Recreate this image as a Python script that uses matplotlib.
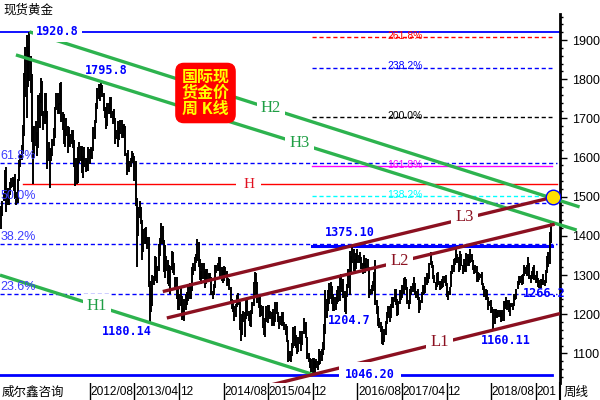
import matplotlib.pyplot as plt
import matplotlib.ticker as mticker
import pandas as pd

# weekly (high, low) of spot gold; each block starts on the Monday given
w2011_start = "2011-04-04"
w2011 = [
    (1476, 1418), (1490, 1450), (1510, 1488), (1569, 1502),
    (1577, 1462), (1522, 1478), (1513, 1480), (1537, 1505), (1547, 1522),
    (1550, 1525), (1545, 1515), (1558, 1495), (1512, 1478),
    (1545, 1483), (1595, 1540), (1610, 1575), (1632, 1595),
    (1684, 1610), (1817, 1655), (1881, 1755), (1912, 1702), (1885, 1780),
    (1920.8, 1795), (1860, 1765), (1812, 1640), (1680, 1532),
    (1680, 1600), (1694, 1630), (1665, 1605), (1760, 1625), (1765, 1675),
    (1802, 1740), (1795, 1705), (1720, 1670), (1764, 1685),
    (1765, 1702), (1720, 1570), (1640, 1590), (1625, 1523),
]
w2012_start = "2012-01-02"
w2012 = [
    (1625, 1590), (1648, 1605), (1675, 1630), (1730, 1650), (1764, 1722),
    (1764, 1710), (1740, 1710), (1790, 1735), (1792, 1690),
    (1715, 1670), (1710, 1635), (1672, 1627), (1700, 1655),
    (1680, 1612), (1677, 1630), (1660, 1626), (1670, 1635), (1670, 1625),
    (1645, 1575), (1600, 1527), (1598, 1532), (1627, 1535),
    (1640, 1585), (1630, 1590), (1630, 1560), (1605, 1547),
    (1627, 1575), (1600, 1562), (1595, 1566), (1627, 1565), (1623, 1584),
    (1627, 1600), (1625, 1597), (1678, 1616), (1695, 1648),
    (1740, 1687), (1777, 1725), (1787, 1750), (1788, 1745),
    (1795.8, 1765), (1786, 1755), (1765, 1718), (1728, 1700), (1730, 1672),
    (1740, 1680), (1738, 1710), (1755, 1710), (1755, 1700),
    (1718, 1685), (1725, 1690), (1700, 1635), (1670, 1648),
]
w2013_start = "2012-12-31"
w2013 = [
    (1694, 1626), (1678, 1645), (1696, 1660), (1697, 1650), (1684, 1650),
    (1685, 1655), (1680, 1605), (1612, 1555), (1620, 1565),
    (1590, 1562), (1598, 1575), (1616, 1590), (1612, 1585),
    (1605, 1540), (1590, 1476), (1496, 1321), (1475, 1400), (1488, 1445),
    (1475, 1430), (1440, 1338), (1418, 1360), (1420, 1380),
    (1424, 1380), (1398, 1366), (1398, 1269), (1285, 1180.14),
    (1267, 1207), (1300, 1220), (1298, 1275), (1348, 1285), (1345, 1292),
    (1323, 1280), (1380, 1310), (1395, 1350), (1434, 1380),
    (1425, 1380), (1390, 1308), (1376, 1293), (1350, 1310), (1338, 1277),
    (1327, 1271), (1324, 1251), (1361, 1312), (1360, 1305),
    (1330, 1300), (1295, 1262), (1295, 1240), (1265, 1212),
    (1253, 1211), (1268, 1220), (1246, 1185), (1217, 1190),
]
w2014_start = "2013-12-30"
w2014 = [
    (1240, 1182), (1251, 1212), (1256, 1224), (1270, 1235), (1280, 1238),
    (1270, 1240), (1320, 1260), (1332, 1300), (1345, 1310),
    (1355, 1330), (1392, 1335), (1385, 1321), (1340, 1287), (1310, 1277),
    (1332, 1290), (1331, 1290), (1310, 1268), (1315, 1278),
    (1316, 1283), (1305, 1285), (1305, 1285), (1295, 1250),
    (1260, 1240), (1278, 1250), (1325, 1268), (1327, 1305), (1332, 1310),
    (1346, 1313), (1345, 1292), (1321, 1285), (1313, 1281),
    (1322, 1285), (1321, 1300), (1310, 1273), (1292, 1276),
    (1291, 1262), (1270, 1229), (1238, 1214), (1237, 1206), (1222, 1183),
    (1225, 1192), (1250, 1219), (1255, 1223), (1232, 1161),
    (1178, 1132), (1200, 1148), (1208, 1180), (1207, 1142),
    (1238, 1188), (1239, 1196), (1209, 1182), (1202, 1170),
]
w2015_start = "2014-12-29"
w2015 = [
    (1211, 1167), (1232, 1200), (1282, 1220), (1307, 1277), (1306, 1250),
    (1282, 1230), (1245, 1216), (1245, 1192), (1224, 1196),
    (1220, 1164), (1175, 1147), (1190, 1142), (1220, 1180), (1224, 1178),
    (1224, 1192), (1209, 1188), (1206, 1170), (1214, 1172),
    (1196, 1170), (1232, 1181), (1232, 1200), (1206, 1181),
    (1195, 1162), (1196, 1172), (1205, 1170), (1206, 1170), (1180, 1159),
    (1175, 1148), (1170, 1130), (1135, 1077), (1105, 1080),
    (1099, 1077), (1126, 1093), (1168, 1115), (1170, 1118), (1147, 1115),
    (1124, 1098), (1143, 1103), (1157, 1125), (1142, 1106),
    (1157, 1122), (1191, 1150), (1180, 1156), (1180, 1140),
    (1142, 1085), (1100, 1078), (1088, 1062), (1087, 1052), (1088, 1046.2),
    (1088, 1061), (1080, 1047), (1085, 1064), (1081, 1057),
]
w2016_start = "2016-01-04"
w2016 = [
    (1112, 1071), (1105, 1072), (1111, 1080), (1128, 1095),
    (1175, 1110), (1263, 1150), (1240, 1191), (1261, 1208), (1280, 1225),
    (1283, 1239), (1272, 1226), (1253, 1208), (1244, 1208),
    (1245, 1210), (1262, 1225), (1272, 1231), (1297, 1235),
    (1304, 1265), (1285, 1256), (1289, 1242), (1260, 1206), (1245, 1200),
    (1278, 1243), (1315, 1267), (1362, 1250), (1350, 1307),
    (1375.1, 1330), (1367, 1310), (1340, 1310), (1357, 1315),
    (1367, 1332), (1352, 1330), (1358, 1336), (1345, 1316), (1330, 1302),
    (1352, 1322), (1330, 1305), (1343, 1312), (1341, 1313),
    (1320, 1241), (1265, 1248), (1275, 1252), (1285, 1260), (1308, 1270),
    (1338, 1223), (1236, 1200), (1220, 1171), (1190, 1164),
    (1180, 1156), (1171, 1124), (1141, 1122), (1162, 1130),
]
w2017_start = "2017-01-02"
w2017 = [
    (1182, 1146), (1207, 1175), (1220, 1190), (1220, 1180), (1227, 1191),
    (1244, 1215), (1245, 1216), (1264, 1232), (1264, 1224),
    (1240, 1195), (1234, 1198), (1261, 1227), (1262, 1237),
    (1274, 1242), (1292, 1252), (1296, 1278), (1290, 1263),
    (1269, 1225), (1236, 1214), (1264, 1226), (1272, 1248), (1281, 1258),
    (1296, 1265), (1281, 1250), (1260, 1242), (1264, 1236),
    (1243, 1204), (1236, 1210), (1257, 1230), (1274, 1250), (1275, 1252),
    (1294, 1255), (1306, 1274), (1300, 1280), (1330, 1290),
    (1358, 1325), (1337, 1318), (1326, 1290), (1300, 1280),
    (1282, 1261), (1306, 1270), (1307, 1276), (1285, 1262), (1284, 1265),
    (1291, 1266), (1297, 1270), (1298, 1281), (1299, 1273),
    (1280, 1245), (1260, 1236), (1270, 1250), (1311, 1270),
]
w2018_start = "2018-01-01"
w2018 = [
    (1326, 1302), (1340, 1307), (1344, 1325), (1366, 1330), (1355, 1332),
    (1345, 1307), (1362, 1314), (1355, 1322), (1325, 1303),
    (1341, 1312), (1330, 1308), (1356, 1309), (1355, 1322),
    (1346, 1323), (1366, 1330), (1353, 1333), (1338, 1314), (1320, 1302),
    (1326, 1305), (1322, 1282), (1307, 1283), (1305, 1287),
    (1304, 1292), (1309, 1276), (1280, 1261), (1271, 1245),
    (1265, 1237), (1262, 1237), (1244, 1211), (1234, 1220), (1237, 1204),
    (1219, 1206), (1214, 1160.11), (1214, 1176), (1214, 1191),
    (1207, 1190), (1212, 1192), (1211, 1194), (1205, 1180),
    (1210, 1182), (1233, 1183), (1233, 1214), (1243, 1222), (1237, 1211),
    (1237, 1206), (1226, 1196), (1230, 1218), (1230, 1211),
    (1253, 1220), (1253, 1236), (1265, 1238), (1284, 1265),
]
w2019_start = "2018-12-31"
w2019 = [
    (1298, 1276), (1298, 1279), (1300, 1276), (1304, 1277), (1326, 1297),
    (1320, 1303), (1327, 1298), (1346, 1320), (1332, 1291),
    (1300, 1281), (1311, 1290), (1320, 1298), (1325, 1287),
    (1300, 1281), (1310, 1281), (1293, 1270), (1288, 1266), (1290, 1266),
    (1290, 1276), (1303, 1276), (1287, 1273), (1312, 1279),
    (1348, 1305), (1359, 1321), (1411, 1329), (1439, 1382),
]
blocks = [(w2011_start, w2011), (w2012_start, w2012), (w2013_start, w2013),
          (w2014_start, w2014), (w2015_start, w2015), (w2016_start, w2016),
          (w2017_start, w2017), (w2018_start, w2018), (w2019_start, w2019)]

# retracement 1046.2 -> 1920.8 and extension levels
fib_labels = ["61.8%", "50.0%", "38.2%", "23.6%"]
fib_values = [1586.7, 1483.5, 1380.3, 1252.6]
ext_labels = ["261.8%", "238.2%", "200.0%", "161.8%", "138.2%"]
ext_values = [1907.3, 1829.6, 1704.0, 1578.4, 1500.7]
ext_colors = ["red", "blue", "black", "magenta", "cyan"]
ext_styles = ["dash", "dash", "dash", "solid", "dash"]

# trend lines: (start date, start price, end date, end price)
green_lines = {
    "H1": ("2011-03-29", 1300, "2015-12-03", 1046.2),
    "H2": ("2011-09-06", 1920.8, "2019-11-27", 1474),
    "H3": ("2011-06-24", 1862, "2019-11-11", 1415),
}
brown_lines = {
    "L1": ("2015-03-03", 1014.6, "2019-08-12", 1201.8),
    "L2": ("2013-09-25", 1190.5, "2019-07-14", 1430),
    "L3": ("2013-09-03", 1258, "2019-07-24", 1501),
}
green_label_pos = {"H1": ("2012-09-08", 1221), "H2": ("2015-04-16", 1727),
                   "H3": ("2015-09-21", 1638)}
brown_label_pos = {"L1": ("2017-10-24", 1129), "L2": ("2017-03-20", 1336),
                   "L3": ("2018-03-09", 1448)}

# price notes: (text, date, price)
price_notes = [
    ("1795.8", "2012-10-30", 1821),
    ("1180.14", "2013-02-16", 1155),
    ("1375.10", "2016-06-20", 1408),
    ("1204.7", "2016-06-15", 1183),
    ("1160.11", "2018-10-22", 1132),
    ("1266.2", "2019-05-17", 1252),
]

date_ticks = ["2012-08-01", "2013-04-01", "2013-12-01", "2014-08-01", "2015-04-01",
              "2015-12-01", "2016-08-01", "2017-04-01", "2017-12-01", "2018-08-01",
              "2019-04-01"]
date_tick_labels = ["2012/08", "2013/04", "12", "2014/08", "2015/04", "12",
                    "2016/08", "2017/04", "12", "2018/08", "201"]

D = pd.Timestamp
plt.rcParams['font.family'] = ['Liberation Sans', 'Noto Sans CJK SC']
CJK = ['Noto Sans CJK SC', 'DejaVu Sans']
MONO = 'DejaVu Sans Mono'
GREEN = '#2db34e'
GREEN_TXT = '#1f9e45'
BROWN = '#8b1020'
FIBBLUE = '#3c3cff'

fig = plt.figure(figsize=(6, 4), dpi=100)
ax = fig.add_axes([0, 17 / 400, 560 / 600, 369 / 400])
x_left, x_right = D("2011-03-29"), D("2019-08-12")
ax.set_xlim(x_left, x_right)
ax.set_ylim(1024.6, 1966.4)

# weekly bars
for start, data in blocks:
    dates = pd.date_range(start, periods=len(data), freq="7D")
    highs = [h for h, l in data]
    lows = [l for h, l in data]
    ax.vlines(dates, lows, highs, color='black', lw=1.4, zorder=3)

# fibonacci retracement lines
for lab, v in zip(fib_labels, fib_values):
    ax.plot([x_left, D("2019-07-24")], [v, v], color='blue', lw=1,
            ls=(0, (3, 2)), zorder=2)
    ax.text(D("2011-03-31"), v + 2, lab, color=FIBBLUE, fontsize=9,
            ha='left', va='bottom', zorder=5)

# extension lines
for lab, v, c, s in zip(ext_labels, ext_values, ext_colors, ext_styles):
    ls = '-' if s == "solid" else (0, (3, 2))
    ax.plot([D("2015-11-26"), D("2019-06-28")], [v, v], color=c, lw=1, ls=ls, zorder=2)
    ax.text(D("2017-01-13"), v + 3, lab, color=c, fontsize=7.5,
            ha='left', va='center', zorder=5)

# horizontal levels
ax.plot([x_left, x_right], [1920.8, 1920.8], color='blue', lw=1.3, zorder=2)
ax.text(D("2012-02-06"), 1920.8, "1920.8", color='blue', fontsize=8.5,
        fontweight='bold', family=MONO, ha='center', va='center', zorder=6,
        bbox=dict(boxstyle='square,pad=0.3', fc='white', ec='none'))
ax.plot([x_left, D("2019-06-28")], [1046.2, 1046.2], color='blue', lw=2, zorder=2)
ax.text(D("2016-10-07"), 1046.2, "1046.20", color='blue', fontsize=8.5,
        fontweight='bold', family=MONO, ha='center', va='center', zorder=6,
        bbox=dict(boxstyle='square,pad=0.5', fc='white', ec='none'))
ax.plot([D("2015-11-26"), D("2019-06-28")], [1375.1, 1375.1], color='blue', lw=2.2, zorder=2)
ax.plot([D("2011-08-01"), D("2019-07-24")], [1532.5, 1532.5], color='red', lw=1, zorder=2)
ax.text(D("2014-12-17"), 1532.5, "H", color='#e01020', fontsize=11, family='Liberation Serif',
        ha='center', va='center', zorder=6,
        bbox=dict(boxstyle='square,pad=0.45', fc='white', ec='none'))

# trend lines
for name, (d0, p0, d1, p1) in green_lines.items():
    ax.plot([D(d0), D(d1)], [p0, p1], color=GREEN, lw=2.4, zorder=4,
            clip_on=(name == "H1"), solid_capstyle='butt')
    d, p = green_label_pos[name]
    ax.text(D(d), p, name, color=GREEN_TXT, fontsize=12, family='Liberation Serif',
            ha='center', va='center', zorder=6,
            bbox=dict(boxstyle='square,pad=0.25', fc='white', ec='none'))
for name, (d0, p0, d1, p1) in brown_lines.items():
    ax.plot([D(d0), D(d1)], [p0, p1], color=BROWN, lw=2.4, zorder=4,
            clip_on=True, solid_capstyle='butt')
    d, p = brown_label_pos[name]
    ax.text(D(d), p, name, color=BROWN, fontsize=12, family='Liberation Serif',
            ha='center', va='center', zorder=6,
            bbox=dict(boxstyle='square,pad=0.25', fc='white', ec='none'))

ax.scatter([D("2019-07-03")], [1499.3], s=110, c='#ffe000', edgecolors='blue',
           linewidths=1, zorder=7)

for txt, d, p in price_notes:
    ax.text(D(d), p, txt, color='blue', fontsize=8.5, fontweight='bold', family=MONO,
            ha='center', va='center', zorder=6)

# right price axis
for side in ['left', 'top', 'bottom']:
    ax.spines[side].set_visible(False)
ax.spines['right'].set_linewidth(2)
ax.yaxis.tick_right()
ax.set_yticks(range(1100, 2000, 100))
ax.yaxis.set_minor_locator(mticker.MultipleLocator(20))
ax.tick_params(axis='y', which='major', length=5, width=1, pad=4, labelsize=9)
ax.tick_params(axis='y', which='minor', length=2.5, width=1)
ax.set_xticks([])
ax.patch.set_alpha(0)

# bottom date strip
axb = fig.add_axes([0, 0, 560 / 600, 17 / 400])
axb.set_xlim(x_left, x_right)
axb.set_ylim(0, 1)
axb.axis('off')
for d, lab in zip(date_ticks, date_tick_labels):
    axb.axvline(D(d), color='black', lw=1)
    axb.text(D(d) + pd.Timedelta(days=4), 0.45, lab, fontsize=8.6, ha='left',
             va='center', clip_on=True)
axb.axvline(x_right, color='black', lw=1.5, clip_on=False)
axb.text(D("2011-04-08"), 0.45, "威尔鑫咨询", family=CJK, fontsize=9,
         ha='left', va='center')

fig.text(3 / 600, 1 - 10 / 400, "现货黄金", family=CJK, fontsize=9, ha='left', va='center')
fig.text(564 / 600, 8 / 400, "周线", family=CJK, fontsize=9, ha='left', va='center')
fig.text(205.5 / 600, 1 - 93 / 400, "国际现\n货金价\n周 K线", family=CJK, fontsize=11.5,
         fontweight='bold', color='#ffff00', ha='center', va='center', linespacing=1.0,
         bbox=dict(boxstyle='round,pad=0.35,rounding_size=0.5', fc='#ff0000', ec='#ff0000'),
         zorder=10)

fig.savefig("out.png", dpi=100)
